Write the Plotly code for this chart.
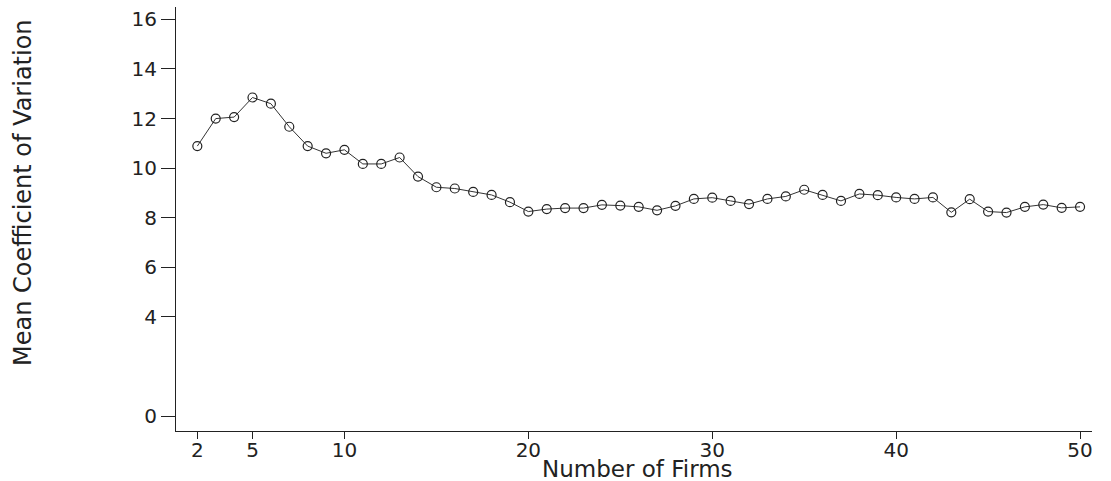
import plotly.graph_objects as go

# Number of firms in the sample
firms = list(range(2, 51))

# Mean coefficient of variation for each sample size
mean_cv = [
    10.89, 12.00, 12.06, 12.85, 12.60, 11.67, 10.89, 10.60, 10.74, 10.17,
    10.17, 10.43, 9.66, 9.23, 9.18, 9.04, 8.92, 8.63, 8.25, 8.35,
    8.39, 8.39, 8.52, 8.49, 8.44, 8.30, 8.48, 8.76, 8.81, 8.68,
    8.55, 8.76, 8.86, 9.13, 8.92, 8.68, 8.96, 8.91, 8.82, 8.76,
    8.82, 8.22, 8.75, 8.25, 8.21, 8.44, 8.53, 8.40, 8.44,
]

x_ticks = [2, 5, 10, 20, 30, 40, 50]
y_ticks = [0, 4, 6, 8, 10, 12, 14, 16]

ink = "#222222"
tick_font = dict(family="DejaVu Sans", size=20, color=ink)

fig = go.Figure(
    go.Scatter(
        x=firms,
        y=mean_cv,
        mode="lines+markers",
        line=dict(color="#333333", width=1),
        marker=dict(symbol="circle-open", size=9, color=ink, line=dict(width=1.2, color=ink)),
        showlegend=False,
    )
)

fig.update_layout(
    width=1111,
    height=481,
    margin=dict(l=176, r=19, t=7, b=50),
    paper_bgcolor="white",
    plot_bgcolor="white",
    xaxis=dict(
        range=[0.84, 50.65],
        tickvals=x_ticks,
        ticktext=[str(v) for v in x_ticks],
        ticks="outside",
        ticklen=7,
        tickcolor=ink,
        tickwidth=1,
        ticklabelstandoff=-6,
        showline=True,
        linecolor=ink,
        linewidth=1,
        showgrid=False,
        zeroline=False,
        tickfont=tick_font,
    ),
    yaxis=dict(
        range=[-0.6, 16.5],
        tickvals=y_ticks,
        ticktext=[str(v) for v in y_ticks],
        ticks="outside",
        ticklen=14,
        tickcolor=ink,
        tickwidth=1,
        showline=True,
        linecolor=ink,
        linewidth=1,
        showgrid=False,
        zeroline=False,
        tickfont=tick_font,
    ),
    annotations=[
        dict(
            text="Number of Firms",
            xref="paper", yref="paper",
            x=0.504, y=-0.09,
            xanchor="center", yanchor="middle",
            showarrow=False,
            font=dict(family="DejaVu Sans", size=23, color=ink),
        ),
        dict(
            text="Mean Coefficient of Variation",
            xref="paper", yref="paper",
            x=-0.1676, y=0.5625,
            xanchor="center", yanchor="middle",
            textangle=-90,
            showarrow=False,
            font=dict(family="DejaVu Sans", size=24, color=ink),
        ),
    ],
)

fig.write_html("out.html")
